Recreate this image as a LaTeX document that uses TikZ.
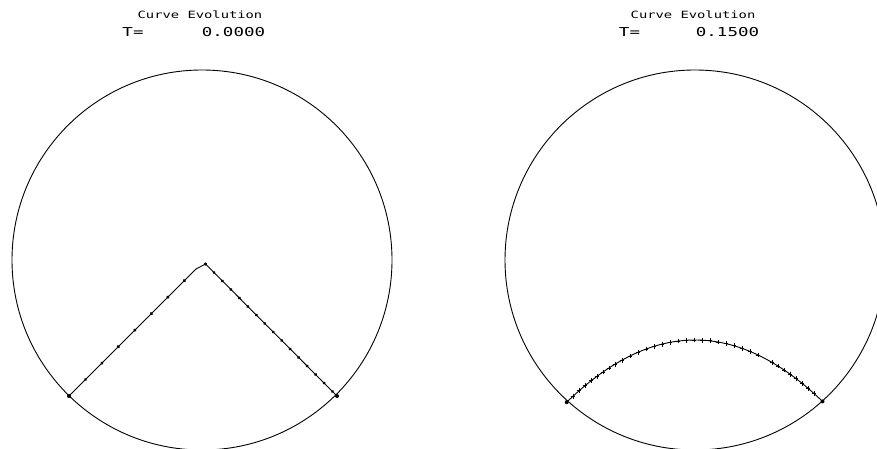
\documentclass[tikz,border=0pt]{standalone}
\usepackage{fontspec}
\newfontfamily\plotfont{DejaVu Sans Mono}
\usetikzlibrary{decorations.markings}
\begin{document}
\begin{tikzpicture}[x=1pt,y=-1pt,line width=0.9pt,
  dotmarks/.style={postaction={decorate,decoration={markings,
      mark=between positions 0 and 1 step #1 with {\fill (0,0) circle (1.7pt);}}}},
  titletext/.style={font=\plotfont\fontsize{10}{12}\selectfont,inner sep=0pt},
  tlabel/.style={font=\plotfont\fontsize{12.3}{14}\selectfont,inner sep=0pt}]
\useasboundingbox (0,0) rectangle (877,449);
\clip (0,0) rectangle (877,449);
\fill[white] (0,0) rectangle (877,449);

% left panel
\node[titletext] (t1) at (200,15) {\scalebox{1.38}[1]{Curve Evolution}};
\node[tlabel] (tl1) at (133,32) {\scalebox{1.42}[1]{T=}};
\node[tlabel] (tv1) at (233.5,32) {\scalebox{1.42}[1]{0.0000}};
\begin{scope}[shift={(202,260)}]
\draw (0,0) circle[radius=190pt];
\draw[dotmarks=23.3pt] (-133,136) -- (-6,9);
\draw (-6,9) -- (3.5,4);
\draw[dotmarks=12pt] (3.5,4) -- (135,136);
\fill (-133,136) circle (2pt) (135,136) circle (2pt) (3.5,4) circle (1.7pt);
\end{scope}

% right panel
\node[titletext] (t2) at (693,15) {\scalebox{1.38}[1]{Curve Evolution}};
\node[tlabel] (tl2) at (629.5,32) {\scalebox{1.42}[1]{T=}};
\node[tlabel] (tv2) at (727.5,32) {\scalebox{1.42}[1]{0.1500}};
\begin{scope}[shift={(695,260)}]
\draw (0,0) circle[radius=190pt];
\draw plot[domain=-128.3:127.5,samples=60,smooth] (\x,{80+0.378*(\x/10)*(\x/10)});
\draw[line width=0.8pt] plot[only marks,mark=+,mark size=2.4pt,samples at={-122,-116,...,-80,-73,-65,...,70,77,83,...,122}] (\x,{80+0.378*(\x/10)*(\x/10)});
\fill (-128.3,142.2) circle (2pt) (127.5,141.4) circle (2pt);
\end{scope}
\end{tikzpicture}
\end{document}
